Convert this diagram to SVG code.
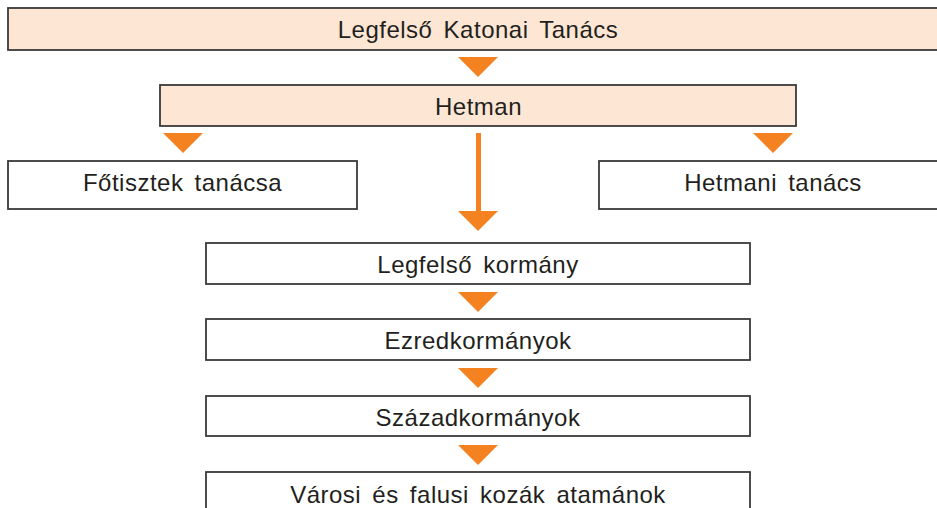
<svg xmlns="http://www.w3.org/2000/svg" width="937" height="508" viewBox="0 0 937 508">
  <style>
    .box { fill: #ffffff; stroke: #3a3a3a; stroke-width: 1.8; }
    .hi { fill: #fde7d4; }
    .lbl { font-family: "Liberation Sans", Arial, sans-serif; font-size: 24px; fill: #231f20; text-anchor: middle; letter-spacing: 0.5px; word-spacing: 4px; }
    .arr { fill: #f58220; }
    .stem { stroke: #f58220; stroke-width: 5; fill: none; }
  </style>
  <rect x="0" y="0" width="937" height="508" fill="#ffffff"/>
  <g id="connectors">
    <polygon class="arr" points="458,57 498,57 478,77"/>
    <polygon class="arr" points="163,133 203,133 183,153"/>
    <polygon class="arr" points="753,133 793,133 773,153"/>
    <line class="stem" x1="478.5" y1="133" x2="478.5" y2="212"/>
    <polygon class="arr" points="458,211 498,211 478,231"/>
    <polygon class="arr" points="458,292 498,292 478,312"/>
    <polygon class="arr" points="458,368 498,368 478,388"/>
    <polygon class="arr" points="458,445 498,445 478,465"/>
  </g>
  <g id="legfelso-katonai-tanacs">
    <rect class="box hi" x="8" y="8" width="935" height="42"/>
    <text class="lbl" x="478" y="37.5">Legfelső Katonai Tanács</text>
  </g>
  <g id="hetman">
    <rect class="box hi" x="160" y="85" width="636" height="41"/>
    <text class="lbl" x="478.5" y="115">Hetman</text>
  </g>
  <g id="fotisztek-tanacsa">
    <rect class="box" x="8" y="161" width="349" height="48"/>
    <text class="lbl" x="182.5" y="190.5">Főtisztek tanácsa</text>
  </g>
  <g id="hetmani-tanacs">
    <rect class="box" x="599" y="161" width="345" height="48"/>
    <text class="lbl" x="773" y="190.5">Hetmani tanács</text>
  </g>
  <g id="legfelso-kormany">
    <rect class="box" x="206" y="243" width="544" height="41"/>
    <text class="lbl" x="478" y="272.5">Legfelső kormány</text>
  </g>
  <g id="ezredkormanyok">
    <rect class="box" x="206" y="319" width="544" height="41"/>
    <text class="lbl" x="478" y="349">Ezredkormányok</text>
  </g>
  <g id="szazadkormanyok">
    <rect class="box" x="206" y="396" width="544" height="40"/>
    <text class="lbl" x="478" y="426">Századkormányok</text>
  </g>
  <g id="varosi-es-falusi-kozak-atamanok">
    <rect class="box" x="206" y="472" width="544" height="44"/>
    <text class="lbl" x="478" y="503">Városi és falusi kozák atamánok</text>
  </g>
</svg>
